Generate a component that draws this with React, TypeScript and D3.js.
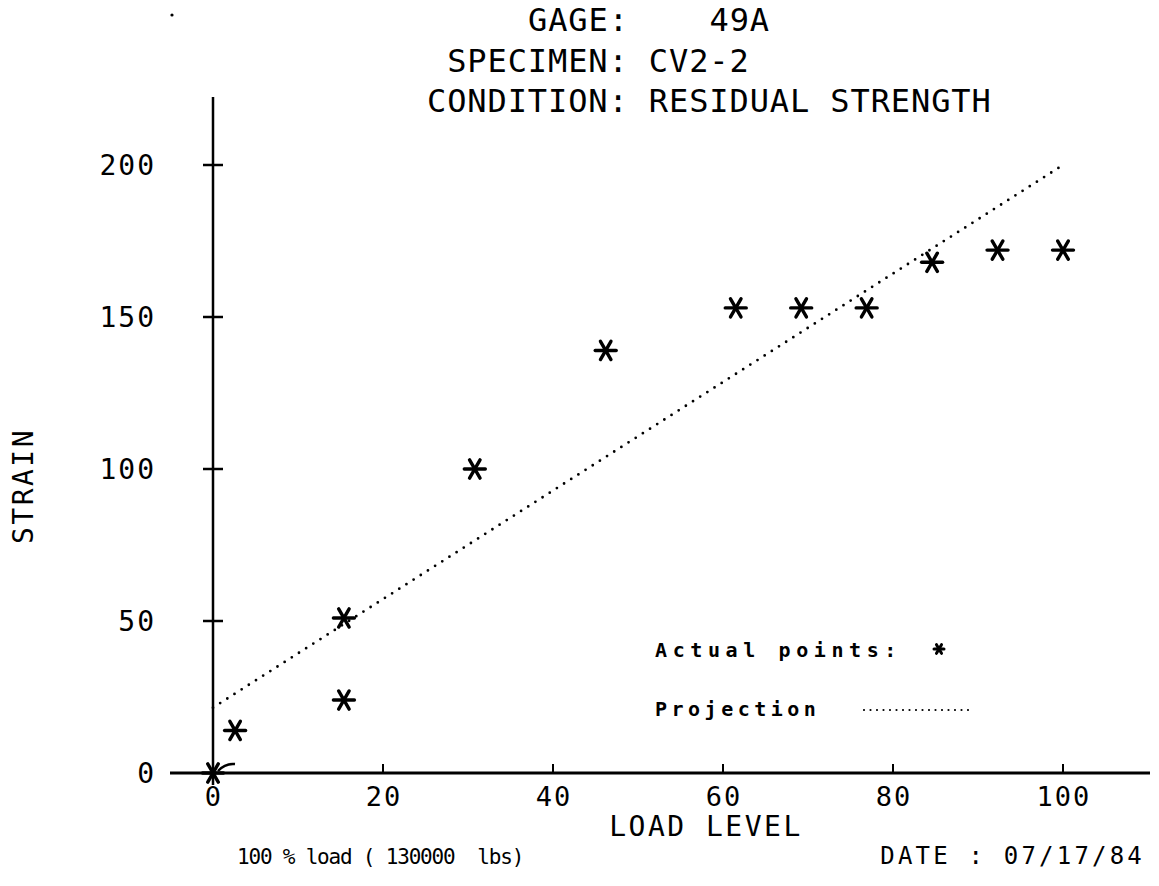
import React from "react";
import * as d3 from "d3";

const loadLevel = [0, 2.6, 15.4, 15.4, 30.8, 46.2, 61.5, 69.2, 76.9, 84.6, 92.3, 100];
const strain = [0, 14, 51, 24, 100, 139, 153, 153, 153, 168, 172, 172];
const projLoad = [0, 100];
const projStrain = [21.5, 200];
const xTicks = [0, 20, 40, 60, 80, 100];
const yTicks = [0, 50, 100, 150, 200];
const titleLines = ["     GAGE:    49A", " SPECIMEN: CV2-2", "CONDITION: RESIDUAL STRENGTH"];

const W = 1159;
const H = 886;
const mono = "'DejaVu Sans Mono', 'Liberation Mono', monospace";

function Star({ x, y, r, w = 3.4 }: { x: number; y: number; r: number; w?: number }) {
  const a = (60 * Math.PI) / 180;
  const dx = r * Math.cos(a);
  const dy = r * Math.sin(a);
  return (
    <g stroke="#000" strokeWidth={w} strokeLinecap="round">
      <line x1={x - r} y1={y} x2={x + r} y2={y} />
      <line x1={x - dx} y1={y - dy} x2={x + dx} y2={y + dy} />
      <line x1={x - dx} y1={y + dy} x2={x + dx} y2={y - dy} />
    </g>
  );
}

export default function App() {
  const x = d3.scaleLinear().domain([0, 100]).range([213, 1063]);
  const y = d3.scaleLinear().domain([0, 200]).range([773, 165]);
  const proj = d3
    .line<number>()
    .x((_, i) => x(projLoad[i]))
    .y((_, i) => y(projStrain[i]));
  const titleAdv = 20.2;
  return (
    <svg width={W} height={H} style={{ position: "absolute", left: 0, top: 0, background: "#fff" }}>
      <rect width={W} height={H} fill="#fff" />
      {/* stray plotter dot */}
      <circle cx={172} cy={15} r={1.6} fill="#000" />
      {/* title */}
      {titleLines.map((t, i) => {
        const lead = t.length - t.trimStart().length;
        return (
          <text
            key={i}
            x={427 + lead * titleAdv}
            y={[31, 72, 112][i]}
            fontFamily={mono}
            fontSize={32}
            letterSpacing={0.9}
            style={{ whiteSpace: "pre" }}
          >
            {t.trimStart()}
          </text>
        );
      })}
      {/* axes */}
      <line x1={x(0)} y1={97} x2={x(0)} y2={785} stroke="#000" strokeWidth={2.5} />
      <line x1={170} y1={y(0)} x2={1150} y2={y(0)} stroke="#000" strokeWidth={3} />
      {yTicks.filter((v) => v > 0).map((v) => (
        <line key={v} x1={x(0) - 10} x2={x(0) + 10} y1={y(v)} y2={y(v)} stroke="#000" strokeWidth={2.5} />
      ))}
      {xTicks.filter((v) => v > 0).map((v) => (
        <line key={v} x1={x(v)} x2={x(v)} y1={y(0)} y2={y(0) - 9} stroke="#000" strokeWidth={2} />
      ))}
      {yTicks.map((v) => (
        <text key={v} x={156} y={y(v) + 10} textAnchor="end" fontFamily={mono} fontSize={28} letterSpacing={2}>
          {v}
        </text>
      ))}
      {xTicks.map((v) => (
        <text key={v} x={x(v) + 1} y={806} textAnchor="middle" fontFamily={mono} fontSize={27} letterSpacing={2}>
          {v}
        </text>
      ))}
      <text x={706} y={836} textAnchor="middle" fontFamily={mono} fontSize={28} letterSpacing={2.5}>
        LOAD LEVEL
      </text>
      <text
        transform={`translate(33, 486) rotate(-90)`}
        textAnchor="middle"
        fontFamily={mono}
        fontSize={28}
        letterSpacing={2.5}
      >
        STRAIN
      </text>
      {/* projection */}
      <path
        d={proj(projLoad) || ""}
        fill="none"
        stroke="#000"
        strokeWidth={2.8}
        strokeLinecap="round"
        strokeDasharray="0 8.5"
      />
      {/* small origin mark */}
      <path d={`M${x(0) + 5},${y(0) - 2} Q${x(0) + 12},${y(0) - 10} ${x(0) + 22},${y(0) - 9}`} fill="none" stroke="#000" strokeWidth={2.5} />
      {/* points */}
      {loadLevel.map((v, i) => (
        <Star key={i} x={x(v)} y={y(strain[i])} r={10.5} />
      ))}
      {/* legend */}
      <text x={655} y={657} fontFamily={mono} fontWeight="bold" fontSize={20} letterSpacing={5.6}>
        Actual points:
      </text>
      <Star x={939} y={649} r={5} w={3} />
      <text x={655} y={716} fontFamily={mono} fontWeight="bold" fontSize={20} letterSpacing={4.5}>
        Projection
      </text>
      <line x1={864} y1={710} x2={970} y2={710} stroke="#000" strokeWidth={2.2} strokeLinecap="round" strokeDasharray="0 6.5" />
      {/* footer */}
      <text x={237} y={864} fontFamily={mono} fontSize={21} letterSpacing={-1.2} style={{ whiteSpace: "pre" }}>
        {"100 % load ( 130000  lbs)"}
      </text>
      <text x={1145} y={864} textAnchor="end" fontFamily={mono} fontSize={24} letterSpacing={3.2} style={{ whiteSpace: "pre" }}>
        {"DATE : 07/17/84"}
      </text>
    </svg>
  );
}
